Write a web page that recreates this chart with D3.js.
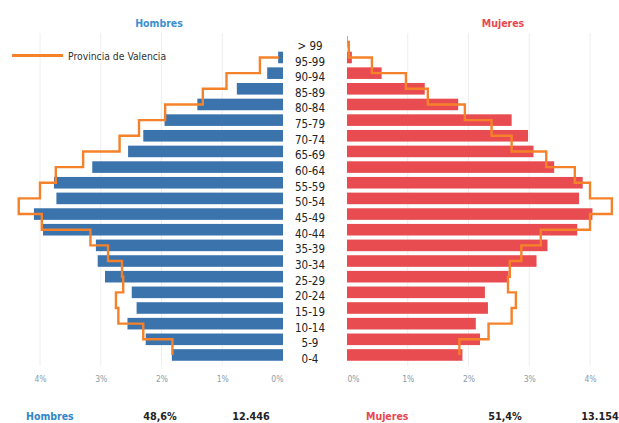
<!DOCTYPE html>
<html><head><meta charset="utf-8">
<script src="https://cdn.jsdelivr.net/npm/d3@7"></script>
<style>
html,body{margin:0;padding:0;background:#fff;}
svg{display:block;font-family:'DejaVu Sans Condensed','DejaVu Sans',sans-serif;font-stretch:condensed;}
</style></head>
<body><svg id="c" width="619" height="423"></svg>
<script>
const categories = ["> 99","95-99","90-94","85-89","80-84","75-79","70-74","65-69","60-64","55-59","50-54","45-49","40-44","35-39","30-34","25-29","20-24","15-19","10-14","5-9","0-4"];
const hombres = [0.0,0.08,0.26,0.76,1.41,1.95,2.30,2.55,3.14,3.77,3.73,4.10,3.95,3.08,3.05,2.93,2.49,2.41,2.56,2.26,1.83];
const mujeres = [0.01,0.08,0.57,1.28,1.83,2.71,2.98,3.07,3.41,3.88,3.82,4.04,3.79,3.30,3.12,2.66,2.27,2.32,2.12,2.19,1.90];
const valenciaH = [null,0.07,0.38,0.93,1.32,1.94,2.37,2.69,3.29,3.74,4.00,4.35,3.97,3.17,2.88,2.65,2.63,2.75,2.71,2.30,1.82];
const valenciaM = [0.0,0.03,0.41,0.97,1.33,1.94,2.38,2.71,3.28,3.75,4.00,4.36,4.00,3.19,2.87,2.68,2.65,2.78,2.71,2.33,1.85];
const tickValues = [0,1,2,3,4];
const tickLabels = ["0%","1%","2%","3%","4%"];
const titles = ["Hombres","Mujeres"];
const legendLabel = "Provincia de Valencia";
const totalsPct = ["48,6%","51,4%"];
const totalsN = ["12.446","13.154"];

const svg = d3.select("#c");
const BLUE = "#3b73ad", RED = "#e84c51", ORANGE = "#f5822a";

const xL = d3.scaleLinear().domain([0,4]).range([283,40]);
const xR = d3.scaleLinear().domain([0,4]).range([347,590]);
const y = d3.scaleBand().domain(categories).range([34,362.8]).paddingInner(0.26).paddingOuter(0.13);

// gridlines
[xL, xR].forEach(x => {
  svg.append("g").selectAll("line").data(tickValues.filter(d=>d>0)).join("line")
    .attr("x1", d=>x(d)).attr("x2", d=>x(d)).attr("y1", 33).attr("y2", 366)
    .attr("stroke", "#eeeeee").attr("stroke-width", 1);
});

// bars
svg.append("g").selectAll("rect").data(categories).join("rect")
  .attr("x", (d,i)=>xL(hombres[i])).attr("width", (d,i)=>xL(0)-xL(hombres[i]))
  .attr("y", d=>y(d)).attr("height", y.bandwidth()).attr("fill", BLUE);
svg.append("g").selectAll("rect").data(categories).join("rect")
  .attr("x", xR(0)).attr("width", (d,i)=>xR(mujeres[i])-xR(0))
  .attr("y", d=>y(d)).attr("height", y.bandwidth()).attr("fill", RED);

// Valencia step lines
const cy = d => y(d) + y.bandwidth()/2;
const lineL = d3.line().defined(d=>d.v!=null).x(d=>xL(d.v)).y(d=>cy(d.c)).curve(d3.curveStepAfter);
const lineR = d3.line().defined(d=>d.v!=null).x(d=>xR(d.v)).y(d=>cy(d.c)).curve(d3.curveStepAfter);
svg.append("path").datum(categories.map((c,i)=>({c, v: valenciaH[i]})))
  .attr("d", lineL).attr("fill","none").attr("stroke", ORANGE).attr("stroke-width", 2.4);
svg.append("path").datum(categories.map((c,i)=>({c, v: valenciaM[i]})))
  .attr("d", lineR).attr("fill","none").attr("stroke", ORANGE).attr("stroke-width", 2.4);

// category labels
svg.append("g").selectAll("text").data(categories).join("text")
  .attr("x", 310).attr("y", d=>cy(d)+4).attr("dy","0.35em")
  .attr("text-anchor","middle").attr("font-size", 11.5).attr("fill","#222").text(d=>d);

// axes
const fmt = d => tickLabels[tickValues.indexOf(d)];
const axL = svg.append("g").attr("transform","translate(0,376)")
  .call(d3.axisBottom(xL).tickValues(tickValues).tickFormat(fmt).tickSize(0));
const axR = svg.append("g").attr("transform","translate(0,376)")
  .call(d3.axisBottom(xR).tickValues(tickValues).tickFormat(fmt).tickSize(0));
[axL, axR].forEach(a => {
  a.select(".domain").remove();
  a.selectAll("text").attr("font-size", 8.5).attr("fill","#8a9ca8")
    .attr("font-family","'DejaVu Sans Condensed','DejaVu Sans',sans-serif").attr("dy","0.3em");
});
axL.selectAll("text").filter(d=>d===0).attr("text-anchor","end");
axR.selectAll("text").filter(d=>d===0).attr("text-anchor","start");

// titles
svg.append("text").attr("x",159).attr("y",23).attr("dy","0.35em").attr("text-anchor","middle")
  .attr("font-size",10.5).attr("font-weight","bold").attr("fill","#3d8fd1").text(titles[0]);
svg.append("text").attr("x",503).attr("y",23).attr("dy","0.35em").attr("text-anchor","middle")
  .attr("font-size",10.5).attr("font-weight","bold").attr("fill","#e8474f").text(titles[1]);

// legend
svg.append("line").attr("x1",12).attr("x2",63).attr("y1",55.5).attr("y2",55.5)
  .attr("stroke",ORANGE).attr("stroke-width",3.2);
svg.append("text").attr("x",68).attr("y",56).attr("dy","0.35em").attr("font-size",10.3)
  .attr("fill","#333").text(legendLabel);

// bottom totals
const by = 416.5;
svg.append("text").attr("x",26).attr("y",by).attr("dy","0.35em").attr("font-size",10.5)
  .attr("font-weight","bold").attr("fill","#2f86c8").text(titles[0]);
svg.append("text").attr("x",366).attr("y",by).attr("dy","0.35em").attr("font-size",10.5)
  .attr("font-weight","bold").attr("fill","#e8474f").text(titles[1]);
svg.append("text").attr("x",160).attr("y",by).attr("dy","0.35em").attr("text-anchor","middle")
  .attr("font-size",10.8).attr("font-weight","bold").attr("fill","#222").text(totalsPct[0]);
svg.append("text").attr("x",505).attr("y",by).attr("dy","0.35em").attr("text-anchor","middle")
  .attr("font-size",10.8).attr("font-weight","bold").attr("fill","#222").text(totalsPct[1]);
svg.append("text").attr("x",251).attr("y",by).attr("dy","0.35em").attr("text-anchor","middle")
  .attr("font-size",10.8).attr("font-weight","bold").attr("fill","#222").text(totalsN[0]);
svg.append("text").attr("x",600).attr("y",by).attr("dy","0.35em").attr("text-anchor","middle")
  .attr("font-size",10.8).attr("font-weight","bold").attr("fill","#222").text(totalsN[1]);
</script></body></html>
